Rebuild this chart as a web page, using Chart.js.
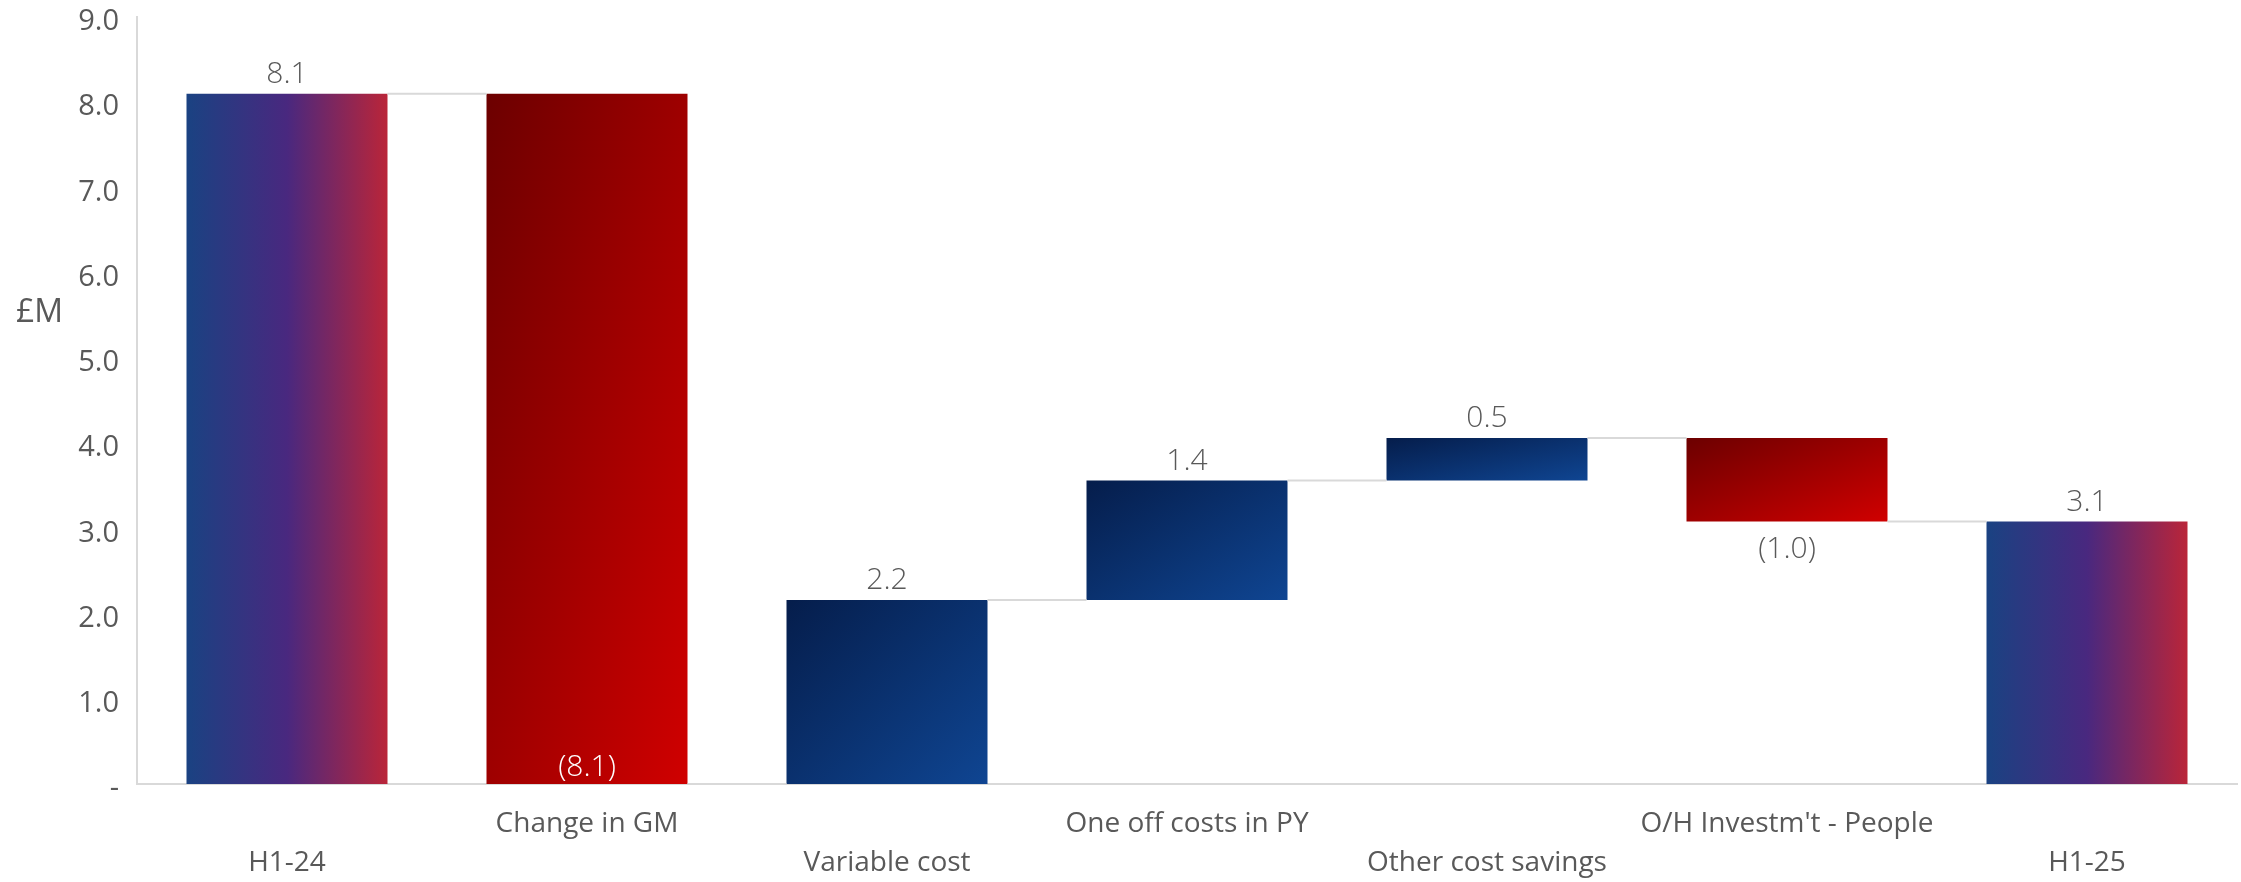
<!DOCTYPE html>
<html lang="en">
<head>
  <meta charset="UTF-8" />
  <title>H1 bridge £M</title>
  <script src="https://cdn.jsdelivr.net/npm/chart.js"></script>
  <style>
    body {
      margin: 0;
      background: #fff;
    }
    .chart-container {
      width: 2241px;
      height: 882px;
    }
  </style>
</head>
<body>
  <div class="chart-container">
    <canvas id="bridgeChart"></canvas>
  </div>

  <script>
    const categories = ['H1-24', 'Change in GM', 'Variable cost', 'One off costs in PY', 'Other cost savings', "O/H Investm't - People", 'H1-25'];
    const steps = [8.1, -8.1, 2.16, 1.40, 0.50, -0.98, 3.08];
    const isTotal = [true, false, false, false, false, false, true];
    const yMin = 0, yMax = 9, yStep = 1;

    // totals start at zero, every other bar floats on the running total
    let running = 0;
    const ranges = steps.map((v, i) => {
      if (isTotal[i]) { running = v; return [0, v]; }
      const r = [running, running + v];
      running += v;
      return r;
    });

    const fmt = v => v < 0 ? '(' + Math.abs(v).toFixed(1) + ')' : v.toFixed(1);
    const grey = '#595959';

    const waterfall = {
      id: 'waterfall',
      beforeDatasetsDraw(chart) {
        const ctx = chart.ctx;
        chart.getDatasetMeta(0).data.forEach((bar, i) => {
          const w = bar.width;
          const left = bar.x - w / 2;
          const top = Math.min(bar.y, bar.base);
          const h = Math.abs(bar.base - bar.y);
          let g;
          if (isTotal[i]) {
            g = ctx.createLinearGradient(left, 0, left + w, 0);
            g.addColorStop(0, '#1a4282');
            g.addColorStop(0.5, '#49287f');
            g.addColorStop(1, '#ba2539');
          } else {
            // diagonal fill stretched to the bar's box
            const k = 2 * w * h / (w * w + h * h);
            g = ctx.createLinearGradient(left, top, left + h * k, top + w * k);
            if (steps[i] < 0) {
              g.addColorStop(0, '#6c0000');
              g.addColorStop(1, '#d00000');
            } else {
              g.addColorStop(0, '#051d4b');
              g.addColorStop(1, '#0f4592');
            }
          }
          bar.options.backgroundColor = g;
        });
      },
      afterDatasetsDraw(chart) {
        const ctx = chart.ctx;
        const yScale = chart.scales.y;
        const bars = chart.getDatasetMeta(0).data;

        // connector lines between neighbouring bars
        ctx.save();
        ctx.strokeStyle = '#d9d9d9';
        ctx.lineWidth = 2;
        for (let i = 0; i < bars.length - 1; i++) {
          const py = yScale.getPixelForValue(ranges[i][1]);
          ctx.beginPath();
          ctx.moveTo(bars[i].x + bars[i].width / 2, py);
          ctx.lineTo(bars[i + 1].x - bars[i + 1].width / 2, py);
          ctx.stroke();
        }

        // value labels
        ctx.font = '300 30px "Open Sans"';
        ctx.textAlign = 'center';
        ctx.textBaseline = 'alphabetic';
        const zero = yScale.getPixelForValue(0);
        bars.forEach((bar, i) => {
          const v = steps[i];
          const top = Math.min(bar.y, bar.base);
          const bottom = Math.max(bar.y, bar.base);
          if (v >= 0 || isTotal[i]) {
            ctx.fillStyle = grey;
            ctx.fillText(fmt(v), bar.x, top - 11);
          } else if (bottom >= zero - 1) {
            ctx.fillStyle = '#ffffff';
            ctx.fillText(fmt(v), bar.x, bottom - 8);
          } else {
            ctx.fillStyle = grey;
            ctx.fillText(fmt(v), bar.x, bottom + 36);
          }
        });
        ctx.restore();
      },
      afterDraw(chart) {
        const ctx = chart.ctx;
        ctx.save();
        ctx.font = '32px "Open Sans"';
        ctx.fillStyle = grey;
        ctx.textAlign = 'left';
        ctx.textBaseline = 'alphabetic';
        ctx.fillText('£M', 16, 322);
        ctx.restore();
      }
    };

    new Chart(document.getElementById('bridgeChart'), {
      type: 'bar',
      data: {
        labels: categories,
        datasets: [{
          data: ranges,
          backgroundColor: () => '#0b3a80',
          borderWidth: 0,
          borderSkipped: false,
          barPercentage: 0.67,
          categoryPercentage: 1.0
        }]
      },
      options: {
        responsive: true,
        maintainAspectRatio: false,
        animation: false,
        layout: { padding: { top: 0, right: 4, left: 0, bottom: 0 } },
        plugins: {
          legend: { display: false },
          tooltip: { enabled: false }
        },
        scales: {
          x: {
            grid: { display: false, drawTicks: false },
            border: { display: true, color: '#d9d9d9', width: 2 },
            afterFit: s => { s.height = 98; },
            ticks: {
              autoSkip: false,
              maxRotation: 0,
              minRotation: 0,
              padding: 21,
              color: grey,
              font: { family: 'Open Sans', size: 28, lineHeight: 1.39 },
              // alternate rows so the long names do not collide
              callback: (value, index) => index % 2 ? [categories[index]] : ['', categories[index]]
            }
          },
          y: {
            min: yMin,
            max: yMax,
            grid: { display: false, drawTicks: false },
            border: { display: true, color: '#d9d9d9', width: 2 },
            afterFit: s => { s.width = 137; s.paddingTop = 17; s.paddingBottom = 0; },
            ticks: {
              stepSize: yStep,
              padding: 18,
              labelOffset: 5,
              color: grey,
              font: { family: 'Open Sans', size: 29 },
              callback: v => v === 0 ? '-' : v.toFixed(1)
            }
          }
        }
      },
      plugins: [waterfall]
    });
  </script>
</body>
</html>
